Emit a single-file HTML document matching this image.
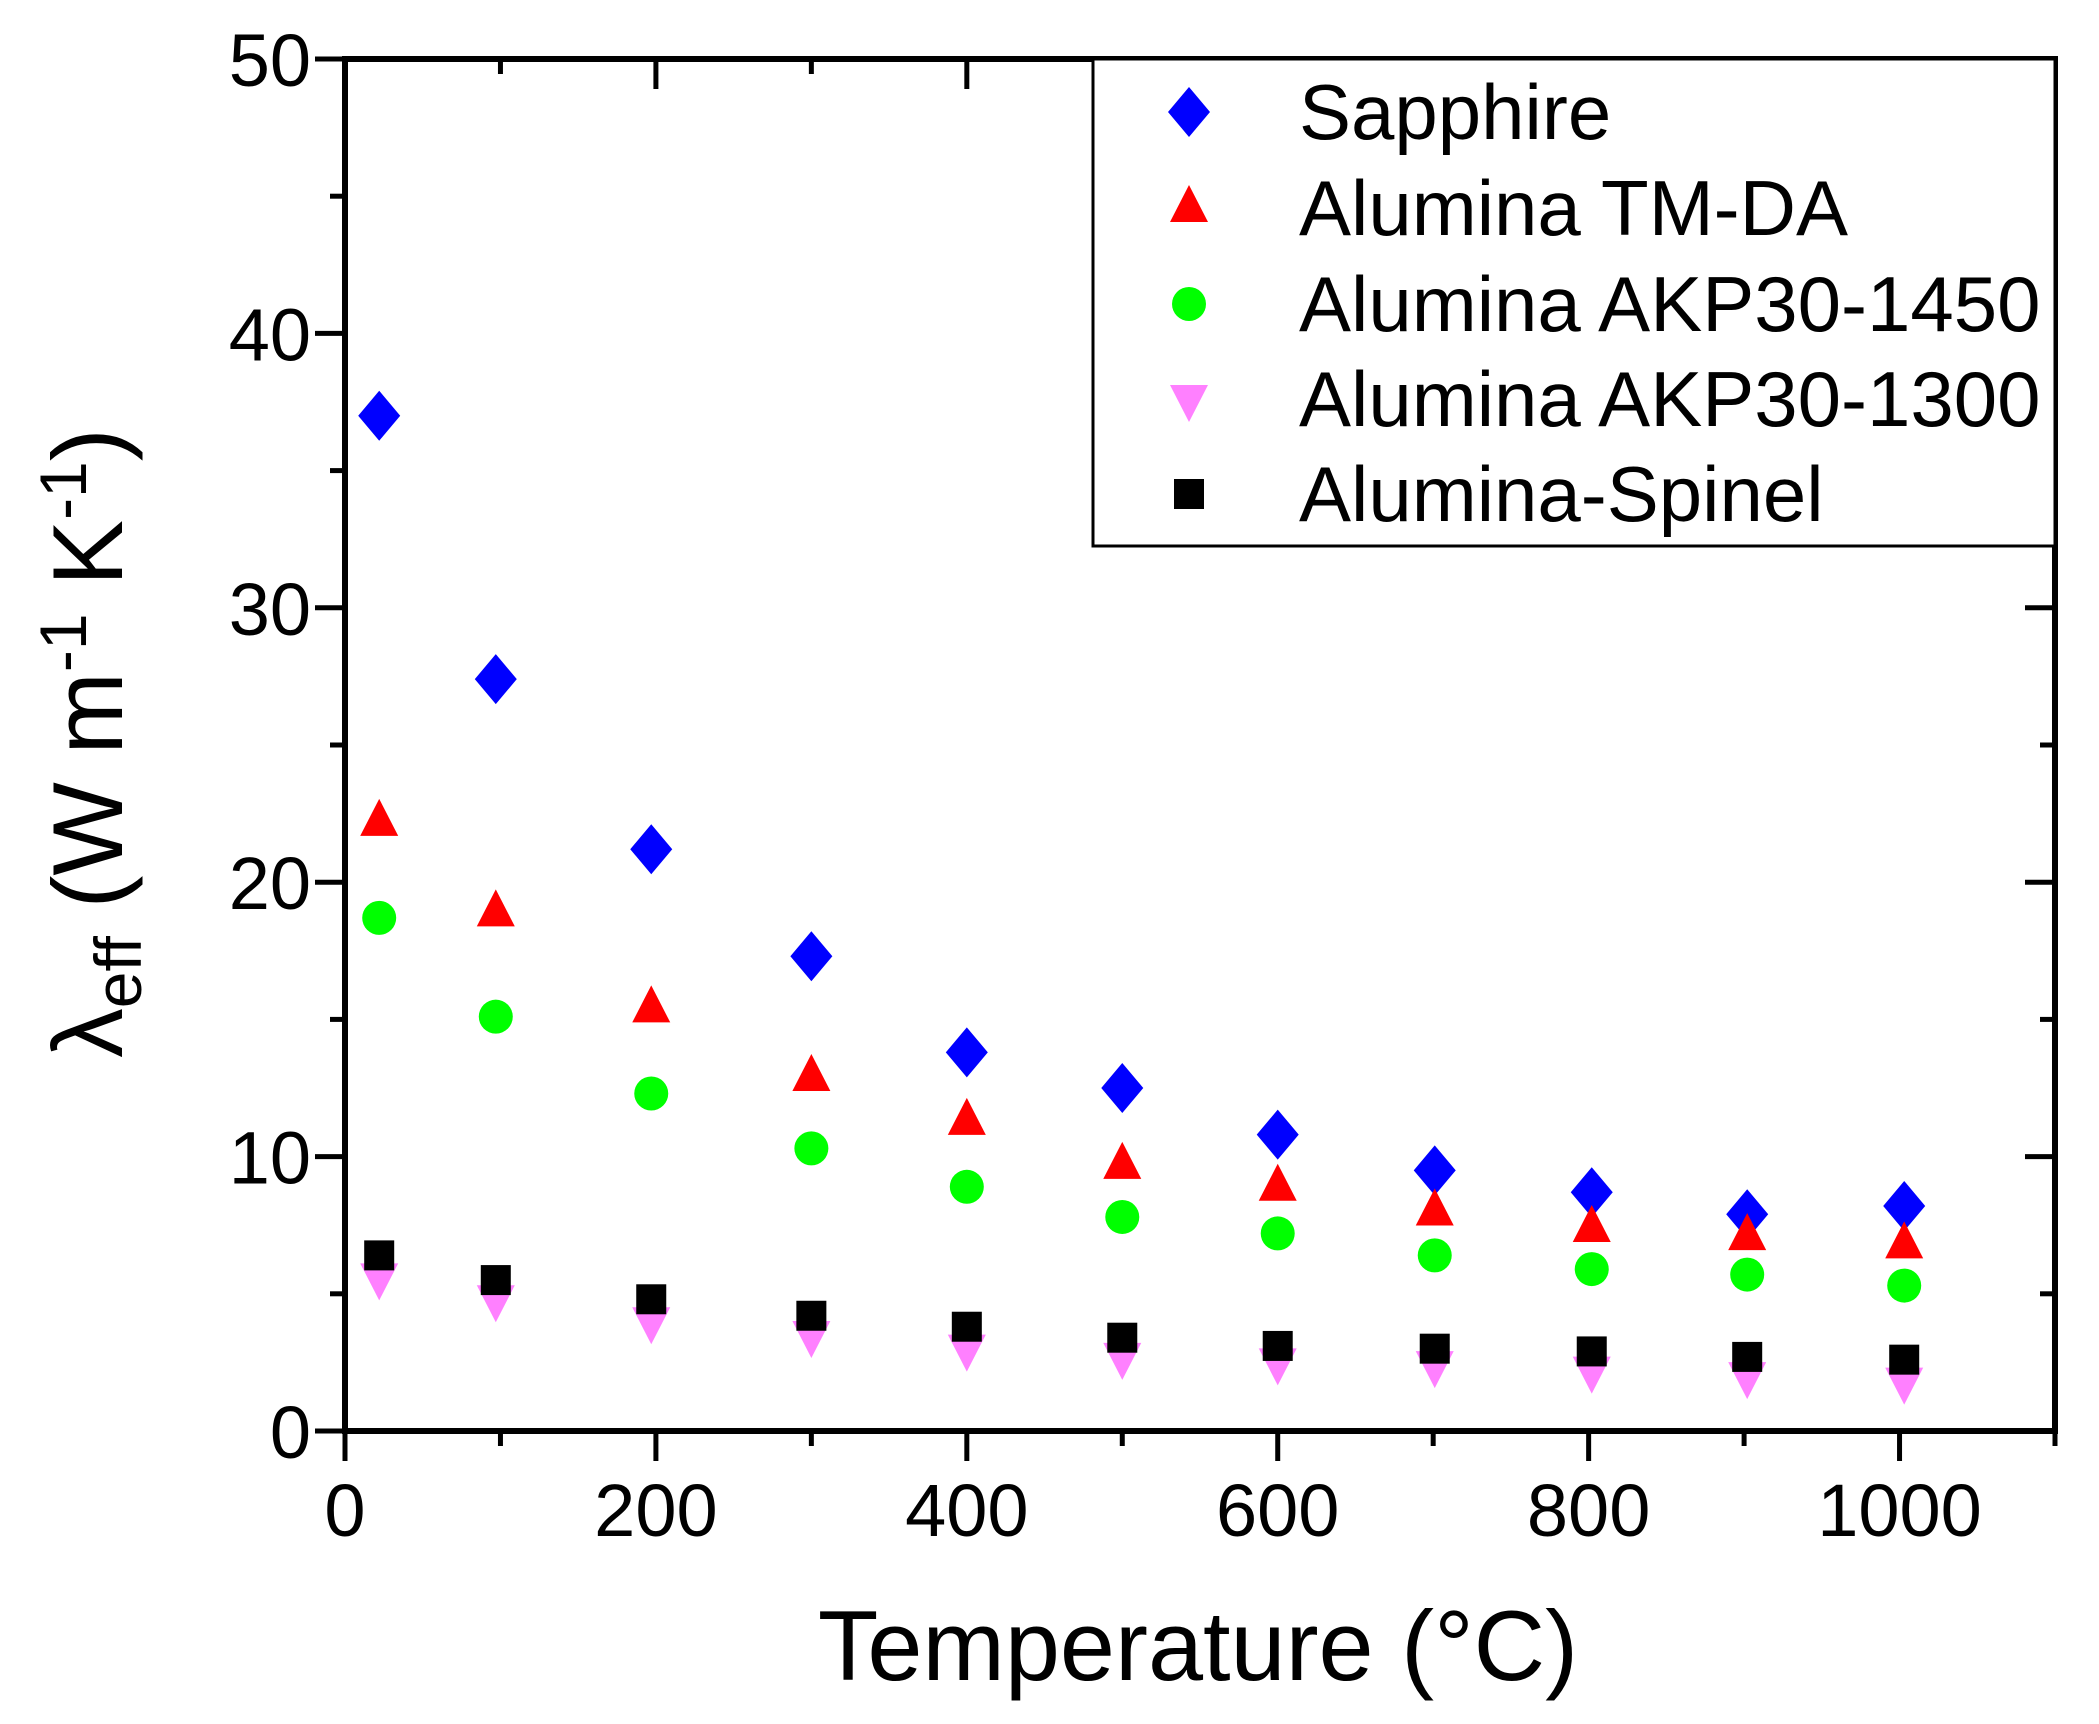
<!DOCTYPE html>
<html><head><meta charset="utf-8"><style>
html,body{margin:0;padding:0;background:#fff;}
svg{display:block;font-family:"Liberation Sans",Arial,sans-serif;}
</style></head><body>
<svg id="chart" width="2099" height="1724" viewBox="0 0 2099 1724" xmlns="http://www.w3.org/2000/svg">
<g id="axes"></g>
<g id="marks"></g>
<g id="legend"></g>
<text x="1198" y="1680" font-size="99" text-anchor="middle">Temperature (°C)</text>
<text transform="translate(122,743) rotate(-90)" font-size="99" text-anchor="middle">λ<tspan font-size="66" dy="19">eff</tspan><tspan dy="-19"> (W m</tspan><tspan font-size="66" dy="-36">-1</tspan><tspan dy="36"> K</tspan><tspan font-size="66" dy="-36">-1</tspan><tspan dy="36">)</tspan></text>
</svg>
<script>
const temps = [22, 97, 197, 300, 400, 500, 600, 701, 802, 902, 1003];
const sapphire = [37.0, 27.4, 21.2, 17.3, 13.8, 12.5, 10.8, 9.5, 8.7, 7.9, 8.2];
const tmda = [22.2, 18.9, 15.4, 12.9, 11.3, 9.7, 8.9, 8.0, 7.4, 7.1, 6.8];
const akp1450 = [18.7, 15.1, 12.3, 10.3, 8.9, 7.8, 7.2, 6.4, 5.9, 5.7, 5.3];
const akp1300 = [5.6, 4.8, 4.0, 3.5, 3.0, 2.7, 2.5, 2.4, 2.2, 2.0, 1.8];
const spinel = [6.4, 5.5, 4.8, 4.2, 3.8, 3.4, 3.1, 3.0, 2.9, 2.7, 2.6];
const xTicks = [0, 200, 400, 600, 800, 1000];
const yTicks = [0, 10, 20, 30, 40, 50];
const seriesNames = ["Sapphire", "Alumina TM-DA", "Alumina AKP30-1450", "Alumina AKP30-1300", "Alumina-Spinel"];

const NS = "http://www.w3.org/2000/svg";
const L = 345, R = 2055, T = 59, B = 1431;
const xMin = 0, xMax = 1100, yMin = 0, yMax = 50;
const sx = v => L + (v - xMin) / (xMax - xMin) * (R - L);
const sy = v => B - (v - yMin) / (yMax - yMin) * (B - T);
function mk(tag, attrs, parent) {
  const e = document.createElementNS(NS, tag);
  for (const k in attrs) e.setAttribute(k, attrs[k]);
  parent.appendChild(e);
  return e;
}
const axes = document.getElementById('axes');
const marks = document.getElementById('marks');
const legend = document.getElementById('legend');

const frame = mk('rect', {x: L, y: T, width: R - L, height: B - T, fill: 'none', stroke: '#000', 'stroke-width': 6}, axes);



for (let v = 0; v <= 1100; v += 100) {
  const major = v % 200 === 0;
  const x = sx(v);
  const t = mk('line', {x1: x, x2: x, y1: B, y2: B + (major ? 30 : 15), stroke: '#000', 'stroke-width': 5}, axes);
  
  
  const t2 = mk('line', {x1: x, x2: x, y1: T, y2: T + (major ? 30 : 15), stroke: '#000', 'stroke-width': 5}, axes);
  
  
}
xTicks.forEach(v => {
  const t = mk('text', {x: sx(v), y: 1536, 'font-size': 74, 'text-anchor': 'middle'}, axes);
  t.textContent = v;
  
  
});
for (let v = 0; v <= 50; v += 5) {
  const major = v % 10 === 0;
  const y = sy(v);
  const t = mk('line', {x1: L - (major ? 30 : 15), x2: L, y1: y, y2: y, stroke: '#000', 'stroke-width': 5}, axes);
  
  
  const t2 = mk('line', {x1: R - (major ? 30 : 15), x2: R, y1: y, y2: y, stroke: '#000', 'stroke-width': 5}, axes);
  
  
}
yTicks.forEach(v => {
  const t = mk('text', {x: 311, y: sy(v) + 27, 'font-size': 74, 'text-anchor': 'end'}, axes);
  t.textContent = v;
  
  
});

function marker(kind, cx, cy, parent) {
  let e;
  if (kind === 'diamond') e = mk('polygon', {points: `${cx},${cy-25} ${cx+21},${cy} ${cx},${cy+25} ${cx-21},${cy}`, fill: '#0000ff'}, parent);
  else if (kind === 'up') e = mk('polygon', {points: `${cx},${cy-23} ${cx+19},${cy+14} ${cx-19},${cy+14}`, fill: '#ff0000'}, parent);
  else if (kind === 'circle') e = mk('ellipse', {cx: cx, cy: cy, rx: 17, ry: 17, fill: '#00ff00'}, parent);
  else if (kind === 'down') e = mk('polygon', {points: `${cx},${cy+23} ${cx+19},${cy-14} ${cx-19},${cy-14}`, fill: '#ff80ff'}, parent);
  else e = mk('rect', {x: cx - 15, y: cy - 15, width: 30, height: 30, fill: '#000'}, parent);
  return e;
}
const allSeries = [
  [sapphire, 'diamond', 'sapphire'],
  [tmda, 'up', 'alumina-tm-da'],
  [akp1450, 'circle', 'alumina-akp30-1450'],
  [akp1300, 'down', 'alumina-akp30-1300'],
  [spinel, 'square', 'alumina-spinel']
];
[0, 1, 2, 3, 4].forEach(i => {
  const [vals, kind, name] = allSeries[i];
  const g = mk('g', {}, marks);
  
  
  vals.forEach((v, j) => {
    const m = marker(kind, sx(temps[j]), sy(v), g);
    
    
  });
});

const lb = mk('rect', {x: 1093, y: T, width: R - 1093, height: 487, fill: '#fff', stroke: '#000', 'stroke-width': 3}, legend);


const rows = [112, 208, 304, 399, 494];
seriesNames.forEach((n, i) => {
  const g = mk('g', {}, legend);
  
  
  const m = marker(allSeries[i][1], 1189, rows[i], g);
  
  
  const t = mk('text', {x: 1299, y: rows[i] + 27, 'font-size': 78}, g);
  t.textContent = n;
  
  
});
</script>
</body></html>
